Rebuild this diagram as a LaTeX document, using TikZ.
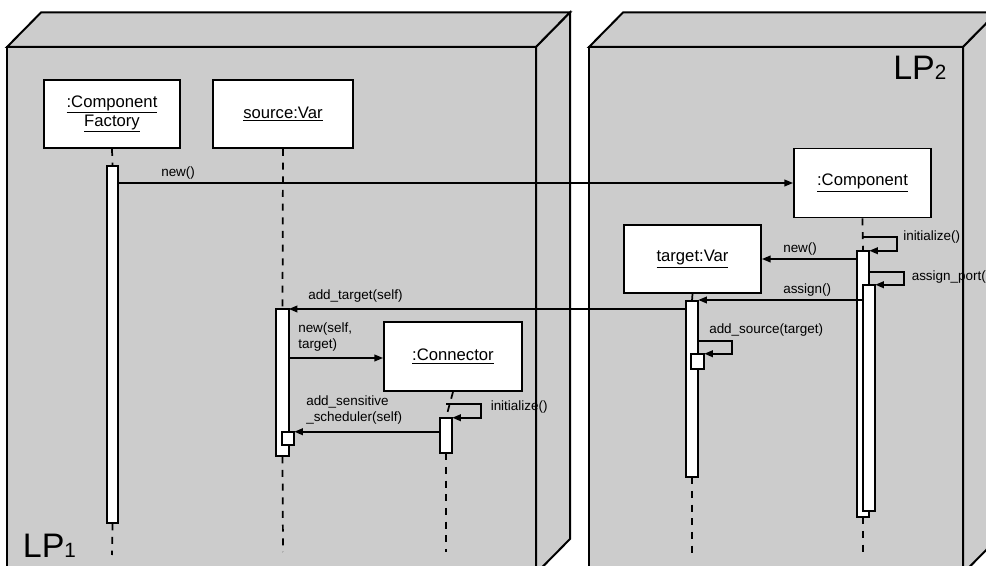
\documentclass[tikz,border=0pt]{standalone}
\usepackage{fontspec}
\setmainfont{Liberation Sans}
\usetikzlibrary{arrows.meta,fit}
\definecolor{lpgray}{HTML}{CCCCCC}
\begin{document}
\begin{tikzpicture}[x=0.75pt,y=-0.75pt,
  face/.style={fill=lpgray,draw=black,line width=1.5pt,line join=miter},
  obj/.style 2 args={draw=black,fill=white,line width=1.4pt,inner sep=0pt,
    minimum width=#1*0.75pt,minimum height=#2*0.75pt,
    font=\fontsize{12.5}{14.25}\selectfont,align=center},
  actshape/.style={inner sep=0pt},
  actbar/.style={draw=black,fill=white,line width=1.3pt},
  life/.style={line width=1.3pt,dash pattern=on 5.25pt off 5pt},
  msg/.style={line width=1.3pt,-{Triangle[length=6.5pt,width=5pt]}},
  lbl/.style={font=\fontsize{10.1}{12.2}\selectfont,inner sep=0pt,anchor=west,align=left},
  lp/.style={font=\fontsize{25.5}{28}\selectfont,inner sep=0pt,anchor=base west}]

\useasboundingbox (0,0) rectangle (986,566);

% ---------- logical processes (3D boxes) ----------
\begin{scope}
\clip (0,0) rectangle (986,566);
\draw[face] (7,47) rectangle (536,600);
\draw[face] (7,47) -- (41,12.5) -- (570,12.5) -- (536,47) -- cycle;
\draw[face] (536,47) -- (570,12.5) -- (570,539) -- (536,573.5) -- cycle;
\draw[face] (589,47) rectangle (963,600);
\draw[face] (589,47) -- (623,12.5) -- (997,12.5) -- (963,47) -- cycle;
\draw[face] (963,47) -- (997,12.5) -- (997,539) -- (963,573.5) -- cycle;
\end{scope}

\node[lp] (lp1) at (22.6,558) {LP{\fontsize{15.5}{17}\selectfont 1}};
\node[lp] (lp2) at (893,80) {LP{\fontsize{15.5}{17}\selectfont 2}};

% ---------- objects ----------
\node[obj={136}{68}] (cf) at (112,114) {\underline{:Component}\\\underline{Factory}};
\node[obj={140}{68}] (sv) at (283,114) {\underline{source:Var}};
\node[obj={138}{69}] (cn) at (453,356.5) {\underline{:Connector}};
\node[obj={137}{69}] (cp) at (862.5,183) {\underline{:Component}};
\node[obj={137}{68}] (tv) at (692.5,259) {\underline{target:Var}};

% ---------- lifeline ends ----------
\coordinate (cfend) at (112,555);
\coordinate (svend) at (283,552);
\coordinate (cnend) at (446,552);
\coordinate (cpend) at (863,558);
\coordinate (tvend) at (692,558);

% ---------- activation bar outlines (positions) ----------
\node[actshape,fit={(107,166)(118,523)}] (cfa) {};
\node[actshape,fit={(276.5,309)(288.5,456)}] (sva) {};
\node[actshape,fit={(440,418)(452,453)}] (cna) {};
\node[actshape,fit={(857,251)(869,517)}] (cpa) {};
\node[actshape,fit={(686,301)(698,477)}] (tva) {};
\node[actshape,fit={(282,432)(294,445)}] (svn) {};
\node[actshape,fit={(863,285)(875,511)}] (cpb) {};
\node[actshape,fit={(691.5,354)(704,369)}] (tvn) {};

% ---------- lifelines ----------
\draw[life] (cf.south) -- (cfa.north);
\draw[life] (cfa.south) -- (cfend);
\draw[life] (sv.south) -- (sva.north);
\draw[life] (sva.south) -- (svend);
\draw[life] (cn.south) -- (cna.north);
\draw[life] (cna.south) -- (cnend);
\draw[life] (cp.south) -- (cpa.north);
\draw[life] (cpa.south) -- (cpend);
\draw[life] (tv.south) -- (tva.north);
\draw[life] (tva.south) -- (tvend);

% ---------- activation bars ----------
\draw[actbar] (cfa.south west) rectangle (cfa.north east);
\draw[actbar] (sva.south west) rectangle (sva.north east);
\draw[actbar] (cna.south west) rectangle (cna.north east);
\draw[actbar] (cpa.south west) rectangle (cpa.north east);
\draw[actbar] (tva.south west) rectangle (tva.north east);
\draw[actbar] (svn.south west) rectangle (svn.north east);
\draw[actbar] (cpb.south west) rectangle (cpb.north east);
\draw[actbar] (tvn.south west) rectangle (tvn.north east);

% ---------- messages ----------
\coordinate (yat) at (0,309);
\coordinate (ynew) at (0,358);
\coordinate (yas) at (0,300);
\coordinate (ci) at (446,404);
\coordinate (cpi) at (863,237);
\coordinate (apy) at (0,272);
\coordinate (asy) at (0,341);

\draw[msg] (cfa.east |- cp.west) -- (cp.west);
\draw[msg] (tva.west |- yat) -- (sva.east |- yat);
\draw[msg] (sva.east |- ynew) -- (cn.west |- ynew);
\draw[msg] (ci) -- ++(35,0) |- (cna.north east);
\draw[msg] (cna.west |- svn.north east) -- (svn.north east);
\draw[msg] (cpi) -- ++(34,0) |- (cpa.north east);
\draw[msg] (cpa.west |- tv.east) -- (tv.east);
\draw[msg] (cpa.east |- apy) -- ++(35,0) |- (cpb.north east);
\draw[msg] (cpb.west |- yas) -- (tva.east |- yas);
\draw[msg] (tva.east |- asy) -- ++(34,0) |- (tvn.north east);

% ---------- message labels ----------
\node[lbl] (l1) at (161,173) {new()};
\node[lbl] (l2) at (308,296.5) {add\_target(self)};
\node[lbl] (l3) at (298,337) {new(self,\\target)};
\node[lbl] (l4) at (490.5,407.5) {initialize()};
\node[lbl] (l5) at (306,410) {add\_sensitive\\\_scheduler(self)};
\node[lbl] (l6) at (903,237.5) {initialize()};
\node[lbl] (l7) at (783,249) {new()};
\node[lbl] (l8) at (911.5,277) {assign\_port(};
\node[lbl] (l9) at (783,290) {assign()};
\node[lbl] (l10) at (709,329.7) {add\_source(target)};
\end{tikzpicture}
\end{document}
